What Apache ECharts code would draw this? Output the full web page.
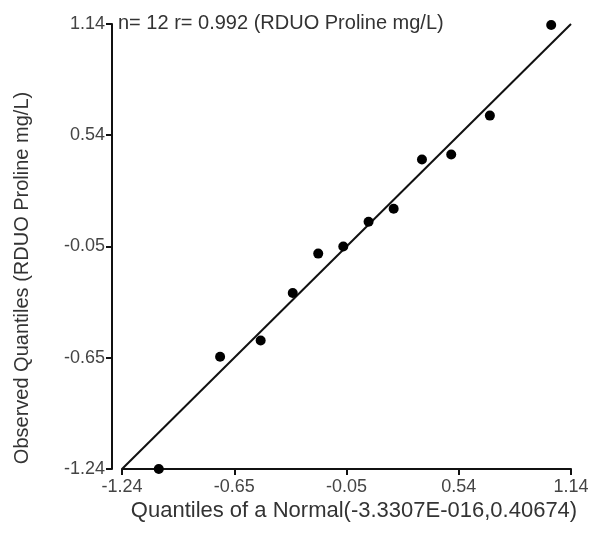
<!DOCTYPE html>
<html><head><meta charset="utf-8">
<script src="https://cdn.jsdelivr.net/npm/echarts@6/dist/echarts.min.js"></script>
<style>html,body{margin:0;padding:0;background:#fff}#c{width:600px;height:536px}</style>
</head><body><div id="c"></div>
<script>
var obsX = [-1.045, -0.72, -0.505, -0.335, -0.20, -0.067, 0.067, 0.20, 0.35, 0.505, 0.71, 1.035];
var obsY = [-1.24, -0.64, -0.553, -0.299, -0.088, -0.050, 0.082, 0.152, 0.415, 0.442, 0.65, 1.135];
var fitX = [-1.24, 1.14];
var fitY = [-1.24, 1.14];
var tickValues = [-1.24, -0.645, -0.05, 0.545, 1.14];
var tickLabels = ['-1.24', '-0.65', '-0.05', '0.54', '1.14'];
var titleText = 'n= 12 r= 0.992 (RDUO Proline mg/L)';
var xName = 'Quantiles of a Normal(-3.3307E-016,0.40674)';
var yName = 'Observed Quantiles (RDUO Proline mg/L)';

function fmt(v){
  var best = 0, d = 1e9;
  for (var i = 0; i < tickValues.length; i++){ var e = Math.abs(tickValues[i]-v); if (e < d){d=e;best=i;} }
  return tickLabels[best];
}
var pts = obsX.map(function(x,i){return [x, obsY[i]];});
var fit = fitX.map(function(x,i){return [x, fitY[i]];});
var font = 'Liberation Sans, Arial, sans-serif';
function axis(margin){
  return {
    type:'value', min:-1.24, max:1.14,
    axisLine:{show:true, onZero:false, lineStyle:{color:'#111', width:2}},
    axisTick:{show:true, length:6, lineStyle:{color:'#111', width:2}, customValues: tickValues},
    axisLabel:{show:true, customValues: tickValues, formatter: fmt, color:'#444', fontSize:18, fontFamily:font, margin:margin},
    splitLine:{show:false}
  };
}
var xa = axis(9);
var ya = axis(7); ya.offset = 10;
var chart = echarts.init(document.getElementById('c'), null, {renderer:'canvas'});
chart.setOption({
  backgroundColor:'#fff',
  animation:false,
  grid:{left:122, right:29, top:24, bottom:67, containLabel:false},
  xAxis: xa,
  yAxis: ya,
  graphic:[
    {type:'text', x:118, y:23, style:{text:titleText, fill:'#333', font:'20px '+font, verticalAlign:'middle'}},
    {type:'text', x:354, y:511, style:{text:xName, fill:'#333', font:'22px '+font, align:'center', verticalAlign:'middle'}},
    {type:'text', x:22, y:278, rotation:Math.PI/2, style:{text:yName, fill:'#333', font:'20px '+font, align:'center', verticalAlign:'middle'}}
  ],
  series:[
    {type:'line', data:fit, symbol:'none', lineStyle:{color:'#111', width:2}, z:2},
    {type:'scatter', data:pts, clip:false, symbolSize:10, itemStyle:{color:'#000', opacity:1}, z:3}
  ]
});
</script></body></html>
